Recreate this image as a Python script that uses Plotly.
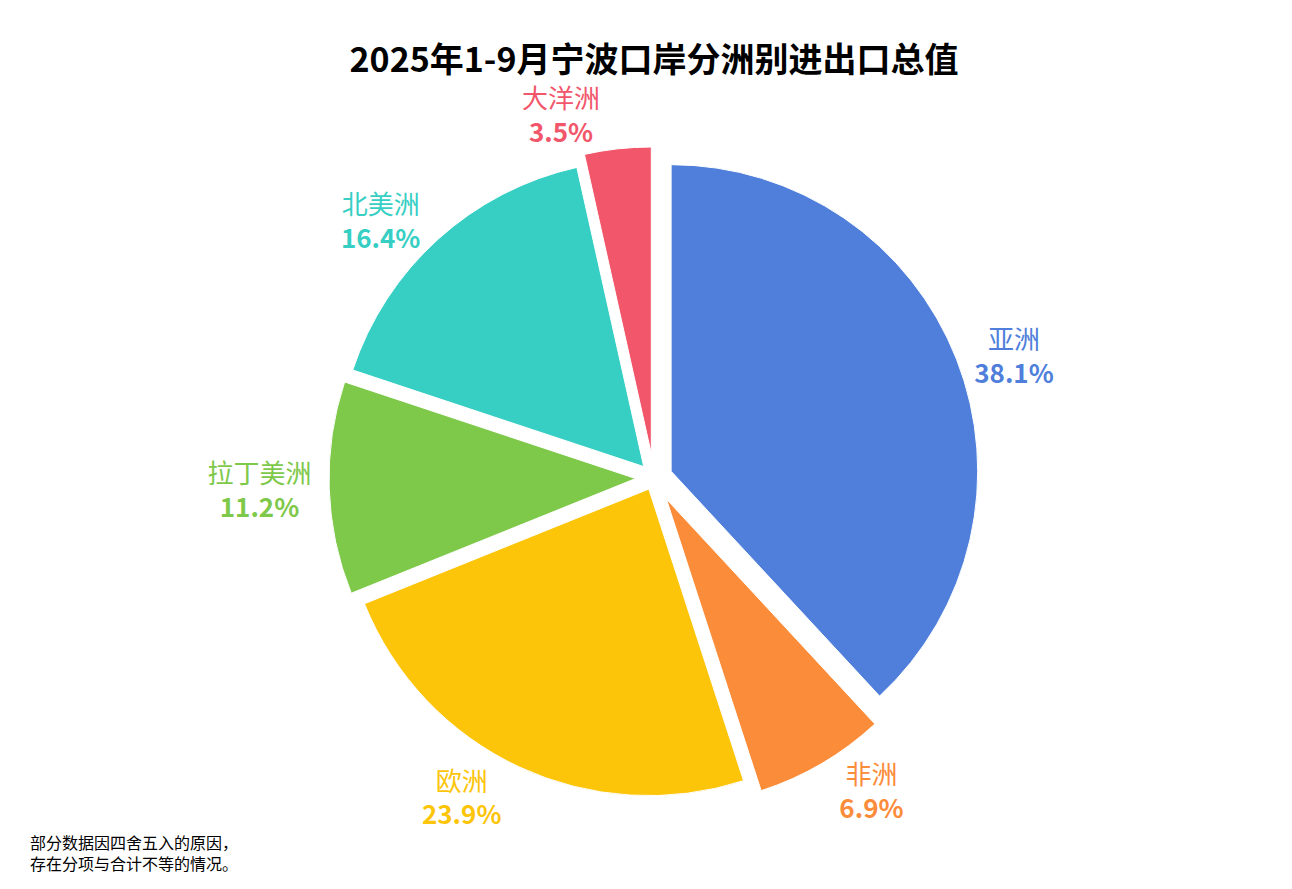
import plotly.graph_objects as go

regions = ["亚洲", "非洲", "欧洲", "拉丁美洲", "北美洲", "大洋洲"]
shares = [38.1, 6.9, 23.9, 11.2, 16.4, 3.5]
colors = ["#4f7fdb", "#fb8c3a", "#fdc50a", "#7ec84a", "#37cfc3", "#f2566b"]

fig = go.Figure(go.Pie(
    labels=regions,
    values=shares,
    sort=False,
    direction="clockwise",
    rotation=0,
    pull=[0.06, 0.08, 0.04, 0.06, 0.05, 0.08],
    marker=dict(colors=colors, line=dict(color="white", width=1)),
    texttemplate="%{label}<br><b>%{value:.1f}%</b>",
    textposition="outside",
    textfont=dict(size=26, color=colors, family="Noto Sans CJK SC"),
    automargin=False,
    showlegend=False,
    domain=dict(x=[0.1, 0.9], y=[0.08, 0.86]),
))

fig.update_layout(
    width=1292, height=889,
    paper_bgcolor="white",
    margin=dict(l=20, r=20, t=20, b=20, autoexpand=False),
    font=dict(family="Noto Sans CJK SC"),
    title=dict(text="<b>2025年1-9月宁波口岸分洲别进出口总值</b>",
               x=0.5, y=0.955, xanchor="center", font=dict(size=34, color="black")),
    annotations=[dict(
        text="部分数据因四舍五入的原因，<br>存在分项与合计不等的情况。",
        x=0.0, y=0.0, xref="paper", yref="paper", xanchor="left", yanchor="bottom",
        align="left", showarrow=False, font=dict(size=16, color="black"))],
)

fig.write_html("out.html")
